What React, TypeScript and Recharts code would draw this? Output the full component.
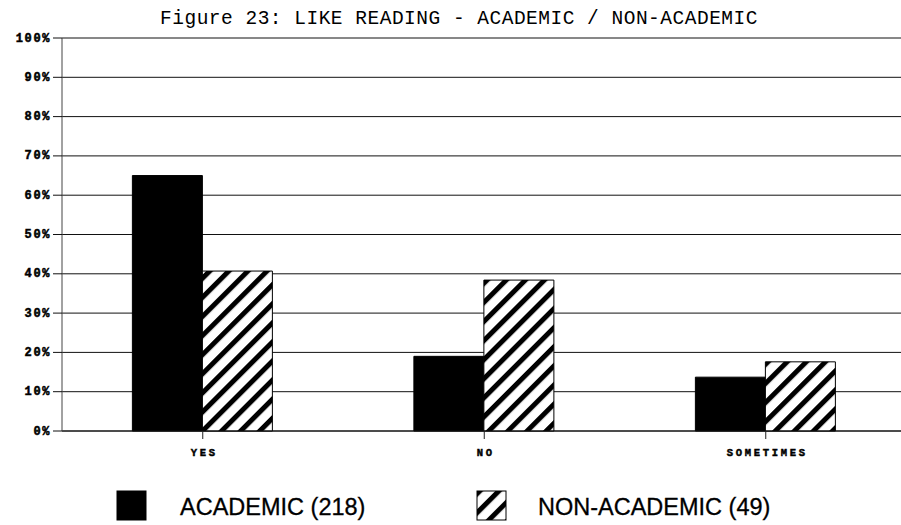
import React from 'react';
import { BarChart, Bar, XAxis, YAxis, CartesianGrid, Legend } from 'recharts';

const categories = ['YES', 'NO', 'SOMETIMES'];
const academic = [65, 19, 13.7];
const nonAcademic = [40.7, 38.4, 17.6];
const yTicks = [0, 10, 20, 30, 40, 50, 60, 70, 80, 90, 100];
const seriesNames = ['ACADEMIC (218)', 'NON-ACADEMIC (49)'];
const title = 'Figure 23: LIKE READING - ACADEMIC / NON-ACADEMIC';

const data = categories.map((c, i) => ({ name: c, academic: academic[i], nonAcademic: nonAcademic[i] }));

const YTick = (props: any) => {
  const { x, y, payload } = props;
  return (
    <text x={x} y={y + 0.5} textAnchor="end" dominantBaseline="central" fontFamily="'Liberation Mono', monospace" fontWeight="bold" fontSize={12} letterSpacing={1.6} fill="#000" stroke="#000" strokeWidth={0.5}>
      {payload.value + '%'}
    </text>
  );
};

const XTick = (props: any) => {
  const { x, y, payload } = props;
  return (
    <text x={x + 1.5} y={y + 15} textAnchor="middle" fontFamily="'Liberation Mono', monospace" fontWeight="bold" fontSize={10.5} letterSpacing={2.7} fill="#000" stroke="#000" strokeWidth={0.45}>
      {payload.value}
    </text>
  );
};

const swatchX = [117, 477];
const textX = [180, 538];

const LegendContent = (props: any) => {
  const { payload } = props;
  return (
    <svg width={901} height={40} style={{ display: 'block' }}>
      <defs>
        <pattern id="hatchLegend" patternUnits="userSpaceOnUse" width={13.5} height={13.5} patternTransform="rotate(45)">
          <rect x={0} y={0} width={13.5} height={13.5} fill="#fff" />
          <rect x={0} y={0} width={5} height={13.5} fill="#000" />
        </pattern>
      </defs>
      {(payload || []).map((p: any, i: number) => (
        <g key={i}>
          <rect x={swatchX[i]} y={1} width={29} height={29} fill={i === 0 ? '#000' : 'url(#hatchLegend)'} stroke="#000" strokeWidth={1} />
          <text x={textX[i]} y={24.5} fontFamily="'Liberation Sans', Arial, sans-serif" fontSize={23.5} fill="#000" stroke="#000" strokeWidth={0.3}>
            {p.value}
          </text>
        </g>
      ))}
    </svg>
  );
};

export default function App() {
  return (
    <div style={{ position: 'absolute', left: 0, top: 0, width: 901, height: 525, overflow: 'hidden', background: '#fff' }}>
      <div style={{ position: 'absolute', left: 0, top: 8, width: 918, textAlign: 'center', fontFamily: "'Liberation Mono', monospace", fontSize: 19.5, letterSpacing: 0.5, color: '#000', whiteSpace: 'nowrap' }}>
        {title}
      </div>
      <BarChart
        width={920}
        height={525}
        data={data}
        margin={{ top: 38, right: 13.5, left: 0, bottom: 64 }}
        barCategoryGap="25%"
        barGap={0}
      >
        <defs>
          <pattern id="hatch" patternUnits="userSpaceOnUse" width={13.5} height={13.5} patternTransform="rotate(45)">
            <rect x={0} y={0} width={13.5} height={13.5} fill="#fff" />
            <rect x={0} y={0} width={5} height={13.5} fill="#000" />
          </pattern>
        </defs>
        <CartesianGrid vertical={false} stroke="#111" strokeWidth={1} />
        <XAxis
          dataKey="name"
          height={30}
          tickSize={8}
          tickLine={{ stroke: '#222' }}
          axisLine={{ stroke: '#111' }}
          tick={<XTick />}
          interval={0}
        />
        <YAxis
          width={62}
          domain={[0, 100]}
          ticks={yTicks}
          interval={0}
          tickSize={9}
          tickLine={{ stroke: '#111' }}
          axisLine={{ stroke: '#444' }}
          tick={<YTick />}
        />
        <Legend
          layout="horizontal"
          verticalAlign="middle"
          align="center"
          wrapperStyle={{ top: 490, left: 0, width: 901 }}
          content={<LegendContent />}
        />
        <Bar dataKey="academic" name={seriesNames[0]} fill="#000" stroke="#000" strokeWidth={1} isAnimationActive={false} />
        <Bar dataKey="nonAcademic" name={seriesNames[1]} fill="url(#hatch)" stroke="#000" strokeWidth={1} isAnimationActive={false} />
      </BarChart>
    </div>
  );
}
